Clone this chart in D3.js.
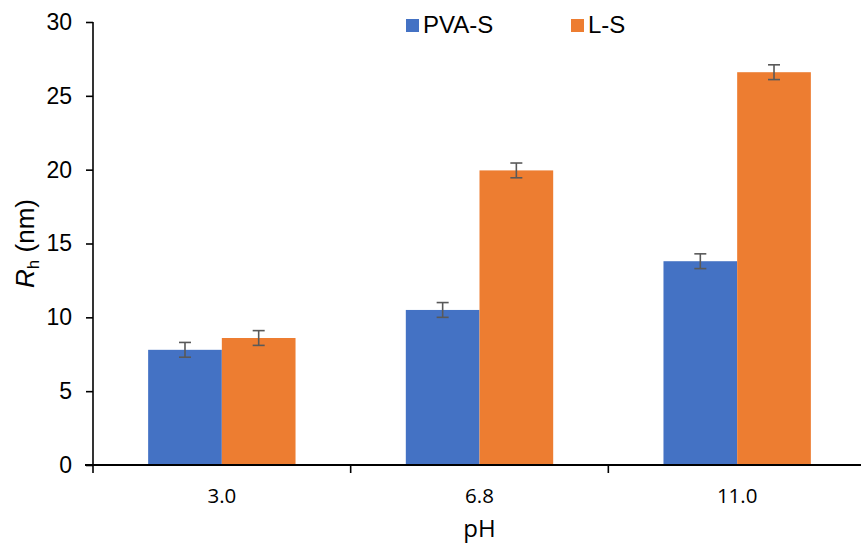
<!DOCTYPE html>
<html>
<head>
<meta charset="utf-8">
<script src="https://cdn.jsdelivr.net/npm/d3@7"></script>
<style>
  html, body { margin: 0; padding: 0; background: #fff; }
  svg { display: block; }
</style>
</head>
<body>
<svg id="chart" width="861" height="543"></svg>
<script>
const categories = ["3.0", "6.8", "11.0"];
const seriesNames = ["PVA-S", "L-S"];
const pvaValues = [7.8, 10.5, 13.8];
const lsValues = [8.6, 19.95, 26.6];
const pvaErrors = [0.5, 0.5, 0.5];
const lsErrors = [0.5, 0.5, 0.5];
const yTicks = [0, 5, 10, 15, 20, 25, 30];
const colors = ["#4472C4", "#ED7D31"];

const svg = d3.select("#chart");
const mLeft = 93, mRight = 866, mTop = 22, mBottom = 465;

const x0 = d3.scaleBand().domain(categories).range([mLeft, mRight])
  .paddingInner(0.428).paddingOuter(0.214);
const x1 = d3.scaleBand().domain(seriesNames).range([0, x0.bandwidth()]);
const y = d3.scaleLinear().domain([0, 30]).range([mBottom, mTop]);

const data = categories.map((c, i) => ({
  cat: c,
  vals: [
    { s: seriesNames[0], v: pvaValues[i], e: pvaErrors[i] },
    { s: seriesNames[1], v: lsValues[i], e: lsErrors[i] }
  ]
}));

// bars
const groups = svg.append("g").selectAll("g").data(data).join("g")
  .attr("transform", d => `translate(${x0(d.cat)},0)`);
groups.selectAll("rect").data(d => d.vals).join("rect")
  .attr("x", d => x1(d.s))
  .attr("width", x1.bandwidth())
  .attr("y", d => y(d.v))
  .attr("height", d => y(0) - y(d.v))
  .attr("fill", (d, i) => colors[i]);

// error bars
const eb = groups.selectAll("g.err").data(d => d.vals).join("g").attr("class", "err")
  .attr("stroke", "#595959").attr("stroke-width", 1.6).attr("fill", "none");
eb.append("line")
  .attr("x1", d => x1(d.s) + x1.bandwidth() / 2).attr("x2", d => x1(d.s) + x1.bandwidth() / 2)
  .attr("y1", d => y(d.v + d.e)).attr("y2", d => y(d.v - d.e));
eb.append("line")
  .attr("x1", d => x1(d.s) + x1.bandwidth() / 2 - 6).attr("x2", d => x1(d.s) + x1.bandwidth() / 2 + 6)
  .attr("y1", d => y(d.v + d.e)).attr("y2", d => y(d.v + d.e));
eb.append("line")
  .attr("x1", d => x1(d.s) + x1.bandwidth() / 2 - 6).attr("x2", d => x1(d.s) + x1.bandwidth() / 2 + 6)
  .attr("y1", d => y(d.v - d.e)).attr("y2", d => y(d.v - d.e));

// y axis
const yAxis = svg.append("g").attr("transform", `translate(${mLeft},0)`)
  .call(d3.axisLeft(y).tickValues(yTicks).tickSize(7).tickPadding(14).tickFormat(d3.format("d")));
yAxis.select(".domain").attr("stroke", "#000").attr("stroke-width", 1.6)
  .attr("d", `M0,${mTop}V${mBottom + 8}`);
yAxis.selectAll(".tick line").attr("stroke", "#000").attr("stroke-width", 1.6);
yAxis.selectAll(".tick text").attr("font-family", "'Liberation Sans', Arial, sans-serif")
  .attr("font-size", 23).attr("fill", "#000");

// x axis
const xg = svg.append("g");
xg.append("line").attr("x1", mLeft - 8).attr("x2", mRight).attr("y1", mBottom).attr("y2", mBottom)
  .attr("stroke", "#000").attr("stroke-width", 1.8);
const step = x0.step();
const boundaries = categories.slice(1).map(c => x0(c) - step * x0.paddingInner() / 2);
xg.selectAll("line.xt").data(boundaries).join("line").attr("class", "xt")
  .attr("x1", d => d).attr("x2", d => d).attr("y1", mBottom).attr("y2", mBottom + 8)
  .attr("stroke", "#000").attr("stroke-width", 1.6);
xg.selectAll("text").data(categories).join("text")
  .attr("x", d => x0(d) + x0.bandwidth() / 2).attr("y", 503)
  .attr("text-anchor", "middle")
  .attr("font-family", "'Open Sans', sans-serif").attr("font-size", 20.5).attr("fill", "#000")
  .text(d => d);

// x title
svg.append("text").attr("x", x0("6.8") + x0.bandwidth() / 2).attr("y", 537)
  .attr("text-anchor", "middle")
  .attr("font-family", "'Open Sans', sans-serif").attr("font-size", 24).attr("fill", "#000")
  .text("pH");

// y title
const yt = svg.append("text").attr("transform", `translate(34,${(mTop + mBottom) / 2}) rotate(-90)`)
  .attr("text-anchor", "middle")
  .attr("font-family", "'Liberation Sans', Arial, sans-serif").attr("font-size", 26).attr("fill", "#000");
yt.append("tspan").attr("font-style", "italic").text("R");
yt.append("tspan").attr("font-size", 17).attr("dy", 5).text("h");
yt.append("tspan").attr("dy", -5).text(" (nm)");

// legend
const legendX = [406, 571];
const lg = svg.append("g").selectAll("g").data(seriesNames).join("g")
  .attr("transform", (d, i) => `translate(${legendX[i]},19)`);
lg.append("rect").attr("width", 13).attr("height", 13).attr("fill", (d, i) => colors[i]);
lg.append("text").attr("x", 17).attr("y", 14)
  .attr("font-family", "'Liberation Sans', Arial, sans-serif").attr("font-size", 24).attr("fill", "#000")
  .text(d => d);
</script>
</body>
</html>
